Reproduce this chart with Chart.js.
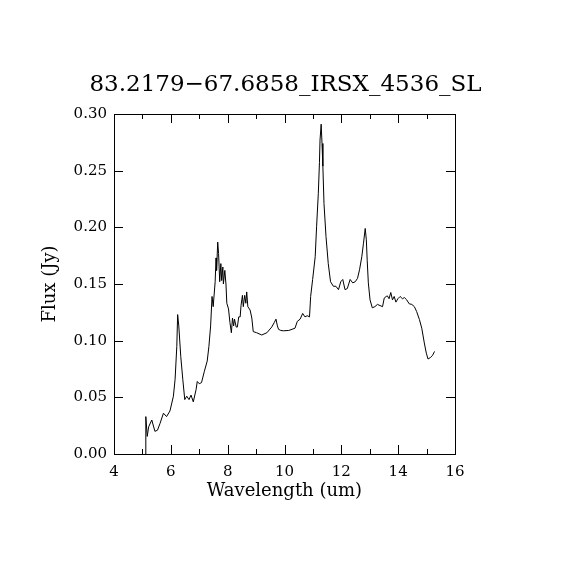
<!DOCTYPE html>
<html>
<head>
<meta charset="utf-8">
<script src="https://cdn.jsdelivr.net/npm/chart.js@4"></script>
<style>
  body { margin: 0; background: #fff; }
  canvas { display: block; }
</style>
</head>
<body>
<canvas id="spec" width="570" height="570"></canvas>
<script>
const chartTitle = '83.2179\u221267.6858_IRSX_4536_SL';

const wavelength = [5.11, 5.12, 5.17, 5.22, 5.33, 5.44, 5.53, 5.62, 5.74, 5.85, 5.97, 6.09, 6.15, 6.21, 6.24, 6.28,
  6.35, 6.42, 6.49, 6.56, 6.64, 6.71, 6.79, 6.89, 6.93, 7.00, 7.08, 7.18, 7.28, 7.34, 7.40, 7.45, 7.49, 7.56,
  7.59, 7.61, 7.65, 7.68, 7.72, 7.76, 7.79, 7.83, 7.85, 7.90, 7.94, 7.97, 8.03, 8.08, 8.13, 8.17, 8.21, 8.24,
  8.30, 8.34, 8.39, 8.44, 8.47, 8.52, 8.55, 8.60, 8.64, 8.67, 8.71, 8.79, 8.85, 8.90, 9.02, 9.20, 9.38, 9.55,
  9.64, 9.70, 9.75, 9.79, 9.87, 9.96, 10.15, 10.37, 10.45, 10.55, 10.64, 10.72, 10.80, 10.88, 10.92, 10.99,
  11.08, 11.13, 11.19, 11.23, 11.25, 11.29, 11.32, 11.35, 11.39, 11.46, 11.54, 11.62, 11.72, 11.81, 11.90,
  11.98, 12.05, 12.13, 12.21, 12.31, 12.40, 12.49, 12.57, 12.64, 12.72, 12.78, 12.84, 12.88, 12.91, 12.95,
  13.01, 13.09, 13.18, 13.27, 13.36, 13.45, 13.51, 13.58, 13.62, 13.68, 13.74, 13.80, 13.86, 13.92, 13.99,
  14.07, 14.15, 14.22, 14.30, 14.39, 14.48, 14.57, 14.65, 14.75, 14.83, 14.92, 14.99, 15.05, 15.13, 15.21, 15.28];

const flux = [0.000, 0.033, 0.0155, 0.024, 0.030, 0.020, 0.021, 0.027, 0.036, 0.033, 0.038, 0.051, 0.066, 0.095, 0.123, 0.113,
  0.086, 0.066, 0.048, 0.051, 0.048, 0.052, 0.046, 0.057, 0.064, 0.062, 0.063, 0.073, 0.082, 0.095, 0.113, 0.139, 0.130, 0.152,
  0.173, 0.162, 0.187, 0.177, 0.152, 0.168, 0.153, 0.165, 0.150, 0.162, 0.150, 0.133, 0.128, 0.116, 0.107, 0.120, 0.113, 0.119,
  0.112, 0.112, 0.121, 0.121, 0.131, 0.140, 0.130, 0.140, 0.133, 0.143, 0.130, 0.127, 0.120, 0.108, 0.107, 0.105, 0.107, 0.112,
  0.116, 0.119, 0.113, 0.110, 0.109, 0.1087, 0.109, 0.111, 0.117, 0.119, 0.124, 0.121, 0.122, 0.121, 0.139, 0.154,
  0.174, 0.201, 0.230, 0.257, 0.277, 0.291, 0.274, 0.254, 0.221, 0.192, 0.168, 0.152, 0.148, 0.148, 0.145,
  0.152, 0.154, 0.145, 0.146, 0.154, 0.151, 0.152, 0.155, 0.1625, 0.174, 0.186, 0.199, 0.189, 0.171, 0.151,
  0.136, 0.129, 0.130, 0.132, 0.131, 0.130, 0.1376, 0.139, 0.1395, 0.137, 0.1425, 0.136, 0.139, 0.134, 0.137,
  0.139, 0.137, 0.138, 0.136, 0.1325, 0.132, 0.130, 0.1257, 0.1185, 0.111, 0.098, 0.089, 0.0838, 0.085, 0.087, 0.0905];

const xTicks = [4, 6, 8, 10, 12, 14, 16];
const yTicks = [0.00, 0.05, 0.10, 0.15, 0.20, 0.25, 0.30];

const serif = 'DejaVu Serif';

// box round the plot, inward ticks on all four sides and the title over the plot centre
const frameTicks = {
  id: 'frameTicks',
  afterDraw(chart) {
    const {ctx, chartArea: a, scales: {x, y}} = chart;
    ctx.save();
    ctx.strokeStyle = '#000';
    ctx.lineWidth = 1;
    ctx.strokeRect(a.left + 0.5, a.top + 0.5, a.right - a.left, a.bottom - a.top);
    ctx.beginPath();
    for (let v = 4; v <= 16; v++) {
      const px = Math.round(x.getPixelForValue(v)) + 0.5;
      const len = v % 2 === 0 ? 9 : 5;
      ctx.moveTo(px, a.bottom); ctx.lineTo(px, a.bottom - len);
      ctx.moveTo(px, a.top); ctx.lineTo(px, a.top + len);
    }
    yTicks.forEach(v => {
      const py = Math.round(y.getPixelForValue(v)) + 0.5;
      ctx.moveTo(a.left, py); ctx.lineTo(a.left + 9, py);
      ctx.moveTo(a.right, py); ctx.lineTo(a.right - 9, py);
    });
    ctx.stroke();

    ctx.fillStyle = '#000';
    ctx.font = '23px "' + serif + '"';
    ctx.textAlign = 'center';
    ctx.textBaseline = 'alphabetic';
    ctx.fillText(chartTitle, (a.left + a.right) / 2 + 1, 91);
    ctx.restore();
  }
};

new Chart(document.getElementById('spec'), {
  type: 'line',
  data: {
    datasets: [{
      data: wavelength.map((w, i) => ({x: w, y: flux[i]})),
      borderColor: '#000',
      borderWidth: 1,
      pointRadius: 0,
      tension: 0,
      fill: false
    }]
  },
  options: {
    responsive: false,
    animation: false,
    layout: {padding: {left: 40, right: 115, top: 114, bottom: 68}},
    plugins: {
      legend: {display: false},
      tooltip: {enabled: false},
      title: {display: false}
    },
    scales: {
      x: {
        type: 'linear',
        min: 4, max: 16,
        afterBuildTicks: s => { s.ticks = xTicks.map(v => ({value: v})); },
        afterFit: s => { s.height = 48; },
        grid: {display: false, drawTicks: false},
        border: {display: false},
        ticks: {color: '#000', padding: 9, maxRotation: 0, font: {family: serif, size: 15}},
        title: {display: true, text: 'Wavelength (um)', color: '#000', padding: 0,
                font: {family: serif, size: 18}}
      },
      y: {
        min: 0, max: 0.3,
        afterBuildTicks: s => { s.ticks = yTicks.map(v => ({value: v})); },
        afterFit: s => { s.width = 74; },
        grid: {display: false, drawTicks: false},
        border: {display: false},
        ticks: {color: '#000', padding: 7, font: {family: serif, size: 15},
                callback: v => v.toFixed(2)},
        title: {display: true, text: 'Flux (Jy)', color: '#000', padding: 0,
                font: {family: serif, size: 18}}
      }
    }
  },
  plugins: [frameTicks]
});
</script>
</body>
</html>
